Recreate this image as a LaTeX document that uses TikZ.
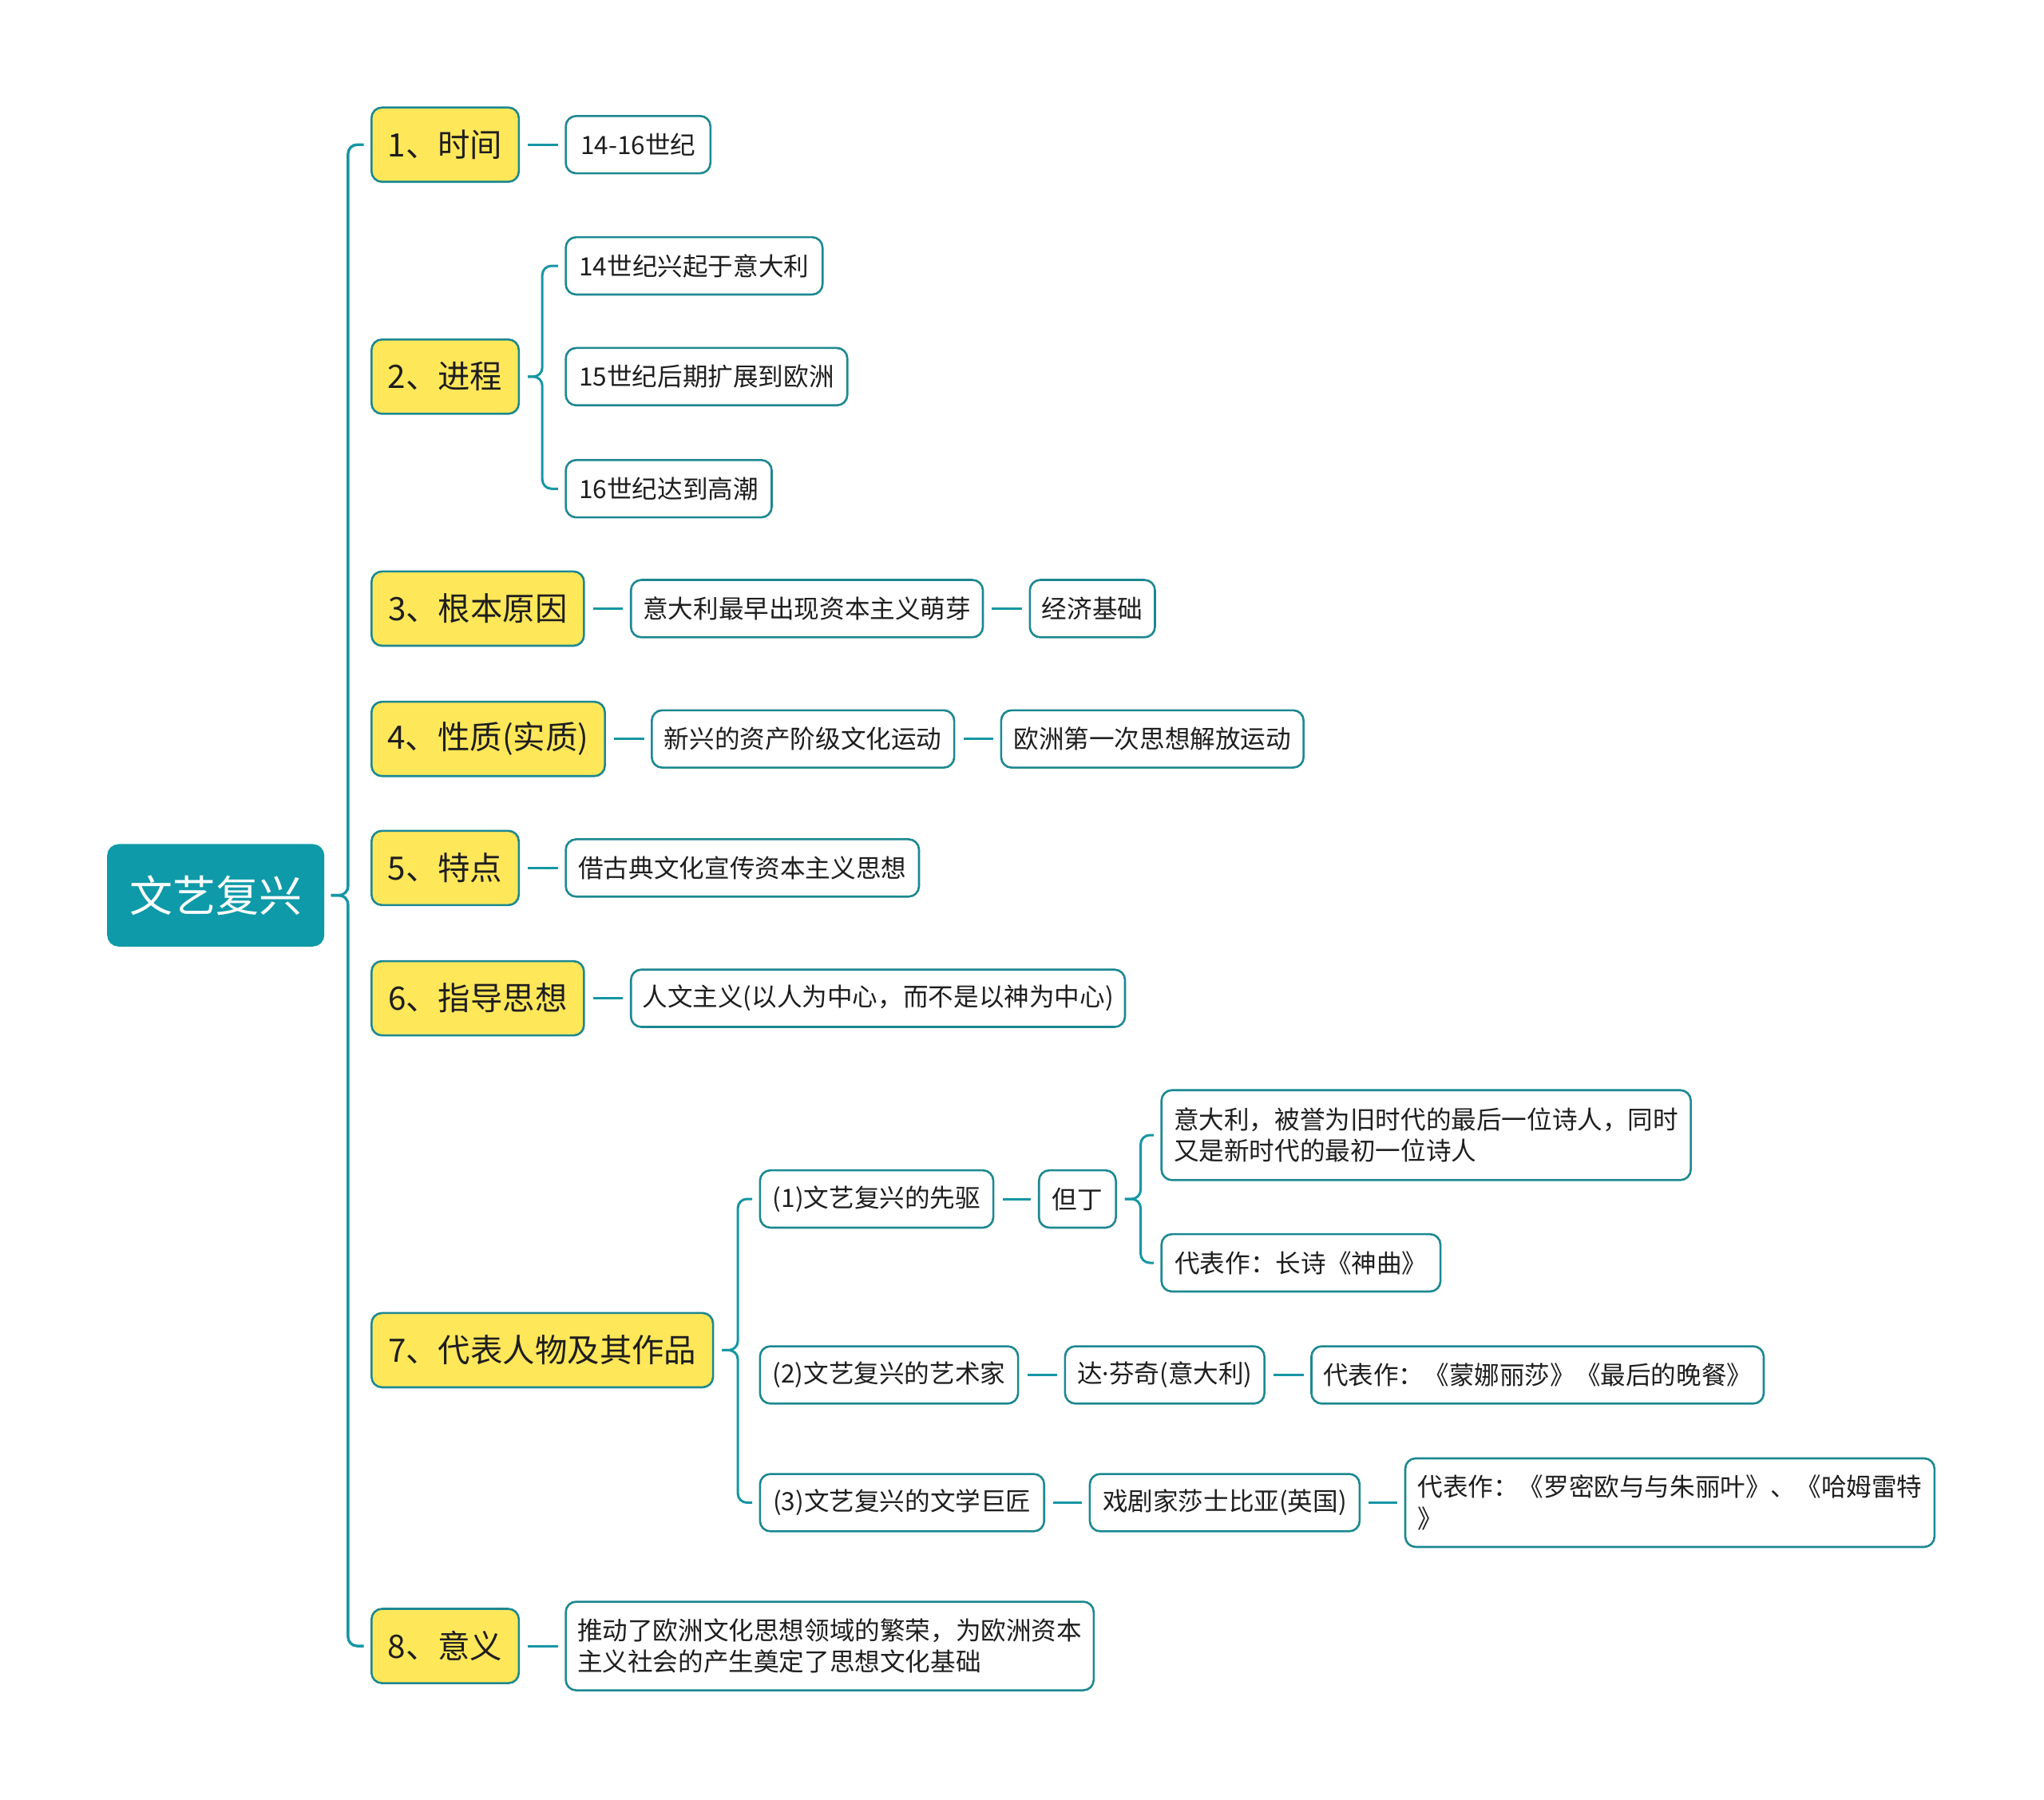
\documentclass[tikz,border=0pt]{standalone}
\usepackage{fontspec}
\setmainfont{Noto Sans CJK SC}
\newfontfamily\latinfont{Noto Sans}
\usetikzlibrary{calc}
\def\pxu{0.8163pt}
\definecolor{rootc}{RGB}{14,154,168}
\definecolor{edgec}{RGB}{28,136,145}
\definecolor{linec}{RGB}{22,150,164}
\definecolor{yelc}{RGB}{255,231,90}
\definecolor{txtc}{RGB}{30,30,30}
\tikzset{
 base/.style={draw=edgec, line width=1.3pt, rounded corners=8*\pxu, outer sep=0pt, inner sep=0pt, anchor=west, text=txtc},
 rootbox/.style={base, fill=rootc, draw=rootc, text=white, font=\fontsize{27pt}{32pt}\selectfont},
 lone/.style={base, fill=yelc, minimum height=57*\pxu, font=\fontsize{20.2pt}{25pt}\selectfont},
 ltwo/.style={base, fill=white, minimum height=44*\pxu, align=left, font=\fontsize{15.8pt}{19.6pt}\selectfont},
 conn/.style={draw=linec, line width=1.5pt, rounded corners=7*\pxu},
}
\newcommand\straightlink[2]{\draw[conn] ($(#1.east)+(7,0)$) -- ($(#2.west)+(-6,0)$);}
\newcommand\bracelink[3]{\draw[conn] ($(#1.east)+(7,0)$) -- (#3,0 |- #1.east) -- (#3,0 |- #2.west) -- ($(#2.west)+(-6,0)$);}
\begin{document}
\begin{tikzpicture}[x=\pxu,y=-\pxu]
\useasboundingbox (0,0) rectangle (1568,1381);
% root
\node[rootbox, minimum width=165*\pxu, minimum height=77*\pxu] (root) at (83,687) {文艺复兴};
% level 1
\node[lone, minimum width=113*\pxu] (a1) at (285,111) {1、时间};
\node[lone, minimum width=113*\pxu] (a2) at (285,289) {2、进程};
\node[lone, minimum width=163*\pxu] (a3) at (285,467) {3、根本原因};
\node[lone, minimum width=179*\pxu] (a4) at (285,567) {4、性质(实质)};
\node[lone, minimum width=113*\pxu] (a5) at (285,666) {5、特点};
\node[lone, minimum width=163*\pxu] (a6) at (285,766) {6、指导思想};
\node[lone, minimum width=262*\pxu] (a7) at (285,1036) {7、代表人物及其作品};
\node[lone, minimum width=113*\pxu] (a8) at (285,1263) {8、意义};
% level 2+
\node[ltwo, minimum width=111*\pxu] (b1) at (434,111) {14-16世纪};
\node[ltwo, minimum width=197*\pxu] (b21) at (434,204) {14世纪兴起于意大利};
\node[ltwo, minimum width=216*\pxu] (b22) at (434,289) {15世纪后期扩展到欧洲};
\node[ltwo, minimum width=158*\pxu] (b23) at (434,375) {16世纪达到高潮};
\node[ltwo, minimum width=270*\pxu] (b3) at (484,467) {意大利最早出现资本主义萌芽};
\node[ltwo, minimum width=96*\pxu] (b3b) at (790,467) {经济基础};
\node[ltwo, minimum width=232*\pxu] (b4) at (500,567) {新兴的资产阶级文化运动};
\node[ltwo, minimum width=232*\pxu] (b4b) at (768,567) {欧洲第一次思想解放运动};
\node[ltwo, minimum width=271*\pxu] (b5) at (434,666) {借古典文化宣传资本主义思想};
\node[ltwo, minimum width=379*\pxu] (b6) at (484,766) {人文主义(以人为中心，而不是以神为中心)};
\node[ltwo, minimum width=179*\pxu] (c1) at (583,920) {(1)文艺复兴的先驱};
\node[ltwo, minimum width=59*\pxu] (d1) at (797,920) {但丁};
\node[ltwo, minimum width=406*\pxu, minimum height=69*\pxu] (e1) at (891,871) {意大利，被誉为旧时代的最后一位诗人，同时\\又是新时代的最初一位诗人};
\node[ltwo, minimum width=214*\pxu] (e2) at (891,969) {代表作：长诗《神曲》};
\node[ltwo, minimum width=198*\pxu] (c2) at (583,1055) {(2)文艺复兴的艺术家};
\node[ltwo, minimum width=153*\pxu] (d2) at (817,1055) {达{\latinfont ·}芬奇(意大利)};
\node[ltwo, minimum width=347*\pxu] (d2b) at (1006,1055) {代表作：《蒙娜丽莎》《最后的晚餐》};
\node[ltwo, minimum width=218*\pxu] (c3) at (583,1153) {(3)文艺复兴的文学巨匠};
\node[ltwo, minimum width=207*\pxu] (d3) at (836,1153) {戏剧家莎士比亚(英国)};
\node[ltwo, minimum width=406*\pxu, minimum height=68*\pxu] (d3b) at (1078,1153) {代表作：《罗密欧与与朱丽叶》、《哈姆雷特\\》};
\node[ltwo, minimum width=405*\pxu, minimum height=68*\pxu] (b8) at (434,1263) {推动了欧洲文化思想领域的繁荣，为欧洲资本\\主义社会的产生奠定了思想文化基础};
% trunk (brace from root to first and last child)
\foreach \c in {a1,a8}
  \draw[conn, line width=1.7pt] ($(root.east)+(6,0)$) -- (267,0 |- root.east) -- (267,0 |- \c.west) -- ($(\c.west)+(-6,0)$);
% connectors
\straightlink{a1}{b1}
\bracelink{a2}{b21}{416}
\bracelink{a2}{b23}{416}
\straightlink{a3}{b3}
\straightlink{b3}{b3b}
\straightlink{a4}{b4}
\straightlink{b4}{b4b}
\straightlink{a5}{b5}
\straightlink{a6}{b6}
\bracelink{a7}{c1}{566}
\bracelink{a7}{c3}{566}
\straightlink{c1}{d1}
\bracelink{d1}{e1}{875}
\bracelink{d1}{e2}{875}
\straightlink{c2}{d2}
\straightlink{d2}{d2b}
\straightlink{c3}{d3}
\straightlink{d3}{d3b}
\straightlink{a8}{b8}
\end{tikzpicture}
\end{document}
